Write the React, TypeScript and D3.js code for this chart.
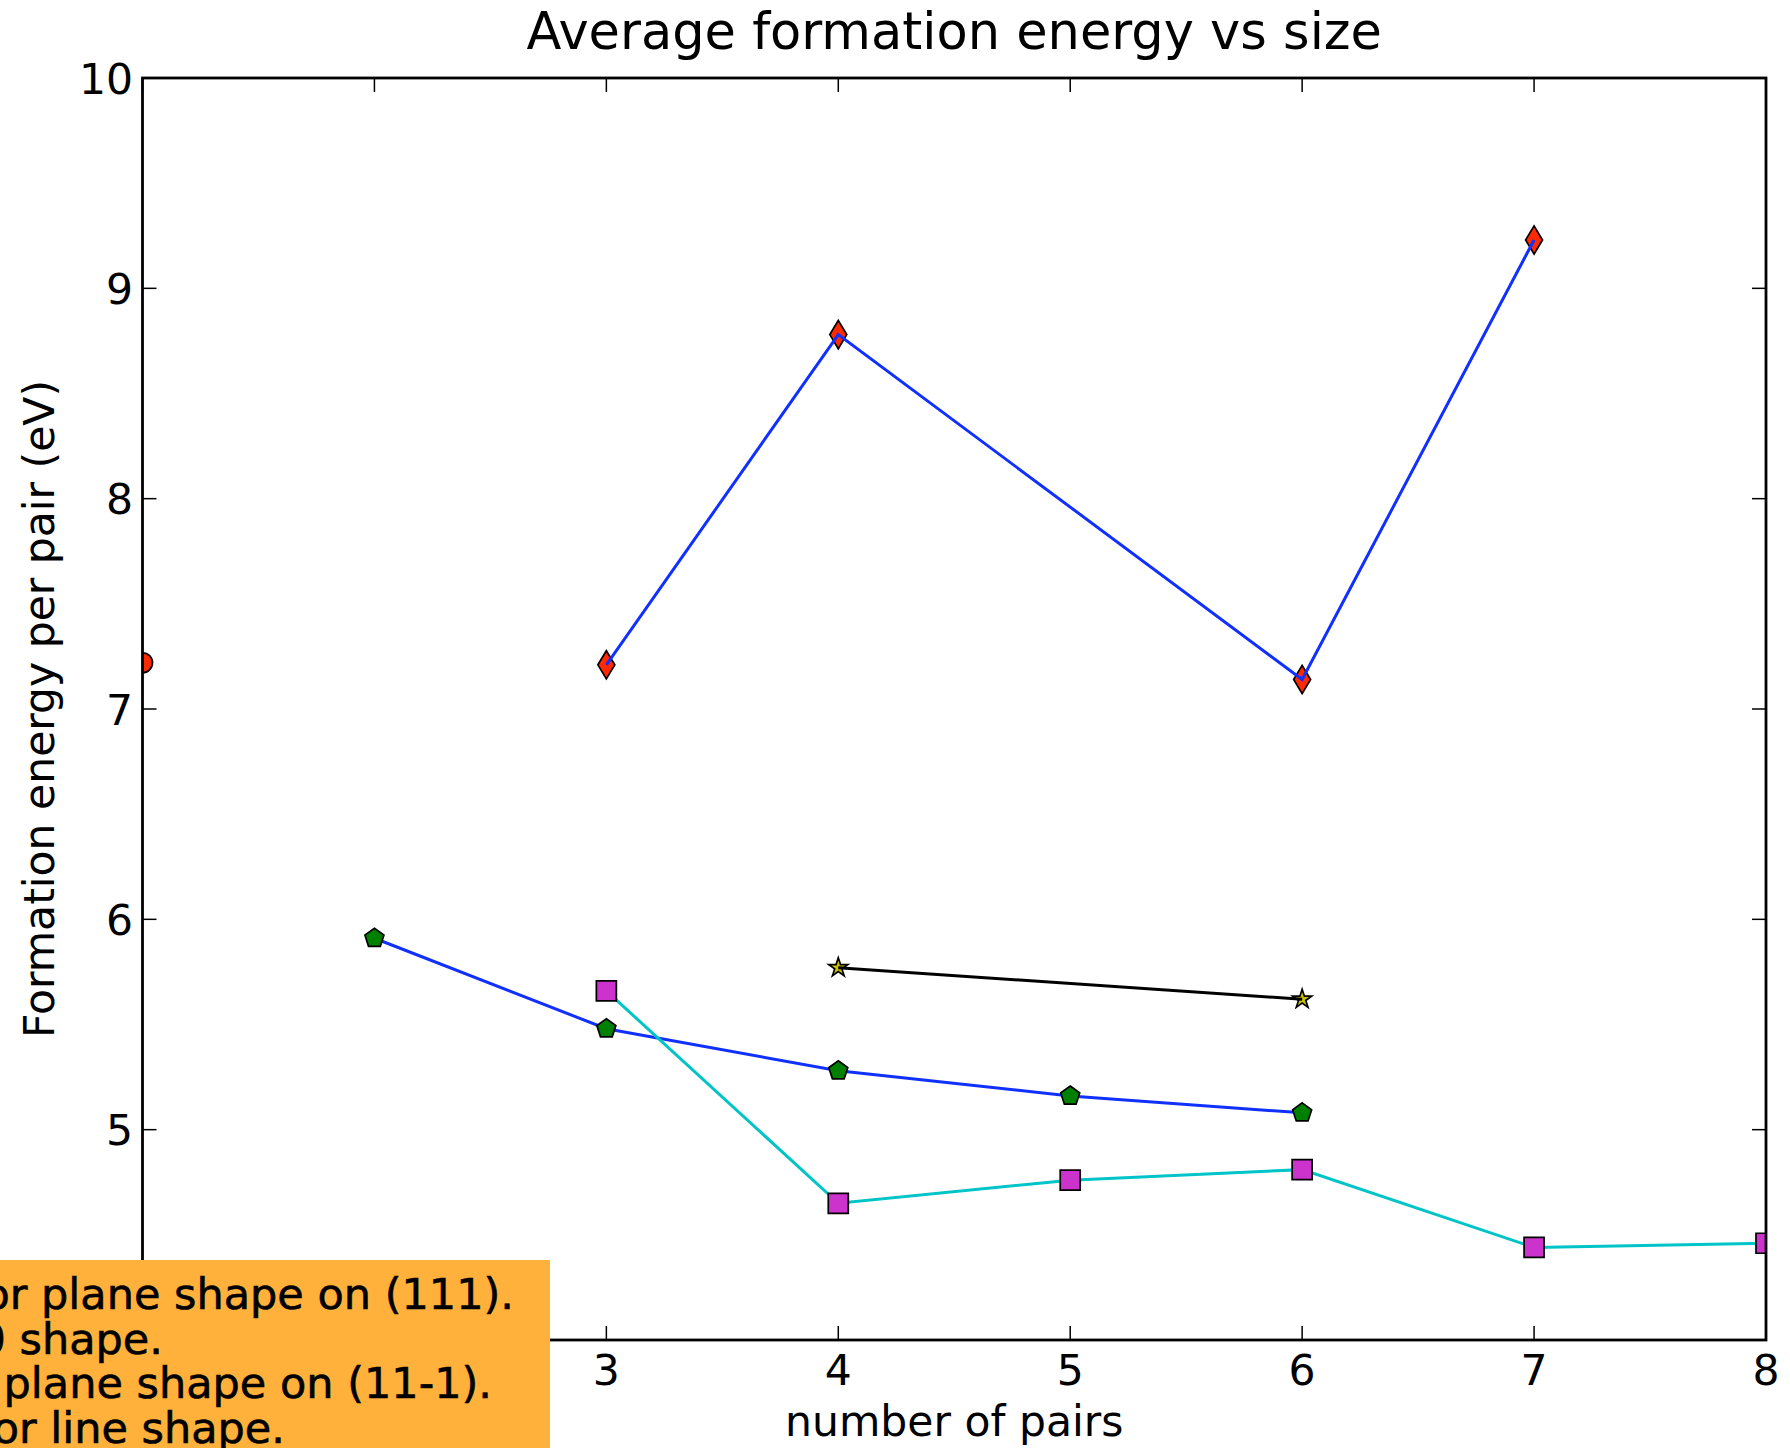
import React from 'react';
import * as d3 from 'd3';

const TITLE = 'Average formation energy vs size';
const X_LABEL = 'number of pairs';
const Y_LABEL = 'Formation energy per pair (eV)';
const X_TICKS = [1, 2, 3, 4, 5, 6, 7, 8];
const Y_TICKS = [4, 5, 6, 7, 8, 9, 10];
// tick labels hidden behind the legend box in the reference
const X_LABEL_TICKS = [3, 4, 5, 6, 7, 8];
const Y_LABEL_TICKS = [5, 6, 7, 8, 9, 10];

const circleX = [1];
const circleY = [7.22];
const diamondX = [3, 4, 6, 7];
const diamondY = [7.21, 8.78, 7.14, 9.23];
const pentagonX = [2, 3, 4, 5, 6];
const pentagonY = [5.91, 5.48, 5.28, 5.16, 5.08];
const squareX = [3, 4, 5, 6, 7, 8];
const squareY = [5.66, 4.65, 4.76, 4.81, 4.44, 4.46];
const starX = [4, 6];
const starY = [5.77, 5.62];

const LEGEND_LINES = [
  'for plane shape on (111).',
  '0 shape.',
  'plane shape on (11-1).',
  'for line shape.',
];
const LEGEND_ENDS = [514, 163, 492, 285];

const W = 1790;
const H = 1448;
const L = 142.5, R = 1766, T = 78, B = 1340;
const MS = 20; // marker size px

const xS = d3.scaleLinear().domain([1, 8]).range([L, R]);
const yS = d3.scaleLinear().domain([4, 10]).range([B, T]);

const FONT = 'DejaVu Sans';
const BLUE = '#1030ff';
const RED = '#ff2a00';
const GREEN = '#008000';
const MAGENTA = '#cc33cc';
const CYAN = '#00c4c8';
const YELLOW = '#c8c000';

function zip(xs: number[], ys: number[]): [number, number][] {
  return xs.map((x, i) => [x, ys[i]]);
}

const lineGen = d3
  .line<[number, number]>()
  .x((d) => xS(d[0]))
  .y((d) => yS(d[1]));

function squarePath(cx: number, cy: number) {
  const h = MS / 2;
  return `M${cx - h},${cy - h}h${MS}v${MS}h${-MS}Z`;
}
function diamondPath(cx: number, cy: number) {
  const hh = (Math.SQRT2 / 2) * MS;
  const hw = 0.6 * hh;
  return `M${cx},${cy - hh}L${cx + hw},${cy}L${cx},${cy + hh}L${cx - hw},${cy}Z`;
}
function polyPath(cx: number, cy: number, n: number, inner?: number) {
  const r = MS / 2;
  const pts: string[] = [];
  const count = inner ? n * 2 : n;
  for (let i = 0; i < count; i++) {
    const a = -Math.PI / 2 + (i * 2 * Math.PI) / count;
    const rr = inner && i % 2 === 1 ? r * inner : r;
    pts.push(`${cx + rr * Math.cos(a)},${cy + rr * Math.sin(a)}`);
  }
  return `M${pts.join('L')}Z`;
}

export default function App() {
  const circles = zip(circleX, circleY);
  const diamonds = zip(diamondX, diamondY);
  const pentagons = zip(pentagonX, pentagonY);
  const squares = zip(squareX, squareY);
  const stars = zip(starX, starY);
  const edge = { stroke: '#000', strokeWidth: 1.7 };

  return (
    <svg
      width={W}
      height={H}
      style={{ position: 'absolute', left: 0, top: 0, display: 'block', background: '#fff' }}
      fontFamily={FONT}
    >
      <rect x={0} y={0} width={W} height={H} fill="#fff" />
      <defs>
        <clipPath id="plotclip">
          <rect x={L} y={T} width={R - L} height={B - T} />
        </clipPath>
      </defs>

      <g clipPath="url(#plotclip)">
        {circles.map((d, i) => (
          <circle key={'c' + i} cx={xS(d[0])} cy={yS(d[1])} r={MS / 2} fill={RED} {...edge} />
        ))}
        {diamonds.map((d, i) => (
          <path key={'d' + i} d={diamondPath(xS(d[0]), yS(d[1]))} fill={RED} {...edge} />
        ))}
        <path d={lineGen(diamonds) || ''} fill="none" stroke={BLUE} strokeWidth={3} />
        <path d={lineGen(pentagons) || ''} fill="none" stroke={BLUE} strokeWidth={3} />
        {pentagons.map((d, i) => (
          <path key={'p' + i} d={polyPath(xS(d[0]), yS(d[1]), 5)} fill={GREEN} {...edge} />
        ))}
        <path d={lineGen(squares) || ''} fill="none" stroke={CYAN} strokeWidth={3} />
        {squares.map((d, i) => (
          <path key={'s' + i} d={squarePath(xS(d[0]), yS(d[1]))} fill={MAGENTA} {...edge} />
        ))}
        {stars.map((d, i) => (
          <path key={'st' + i} d={polyPath(xS(d[0]), yS(d[1]), 5, 0.381966)} fill={YELLOW} {...edge} />
        ))}
        <path d={lineGen(stars) || ''} fill="none" stroke="#000" strokeWidth={3} />
      </g>

      {/* ticks */}
      <g stroke="#000" strokeWidth={1.5}>
        {X_TICKS.map((t) => (
          <g key={'xt' + t}>
            <line x1={xS(t)} x2={xS(t)} y1={B} y2={B - 14} />
            <line x1={xS(t)} x2={xS(t)} y1={T} y2={T + 14} />
          </g>
        ))}
        {Y_TICKS.map((t) => (
          <g key={'yt' + t}>
            <line x1={L} x2={L + 14} y1={yS(t)} y2={yS(t)} />
            <line x1={R} x2={R - 14} y1={yS(t)} y2={yS(t)} />
          </g>
        ))}
      </g>

      {/* spines */}
      <rect x={L} y={T} width={R - L} height={B - T} fill="none" stroke="#000" strokeWidth={2.8} />

      {/* tick labels */}
      <g fontSize={42.5} fill="#000">
        {X_LABEL_TICKS.map((t) => (
          <text key={'xl' + t} x={xS(t)} y={1385} textAnchor="middle">
            {t}
          </text>
        ))}
        {Y_LABEL_TICKS.map((t) => (
          <text key={'yl' + t} x={133} y={yS(t) + 15.5} textAnchor="end">
            {t}
          </text>
        ))}
      </g>

      <text x={(L + R) / 2} y={1436} textAnchor="middle" fontSize={42.5}>
        {X_LABEL}
      </text>
      <text
        transform={`translate(54,${(T + B) / 2}) rotate(-90)`}
        textAnchor="middle"
        fontSize={42.5}
      >
        {Y_LABEL}
      </text>
      <text x={(L + R) / 2} y={49} textAnchor="middle" fontSize={51}>
        {TITLE}
      </text>

      {/* legend box */}
      <rect x={-10} y={1260} width={560} height={220} fill="#ffb13b" />
      <g fontFamily="DejaVu Sans" fontSize={43} fill="#000" stroke="#000" strokeWidth={0.6}>
        {LEGEND_LINES.map((s, i) => (
          <text key={'lg' + i} x={LEGEND_ENDS[i]} y={1309 + i * 44.5} textAnchor="end">
            {s}
          </text>
        ))}
      </g>
    </svg>
  );
}
